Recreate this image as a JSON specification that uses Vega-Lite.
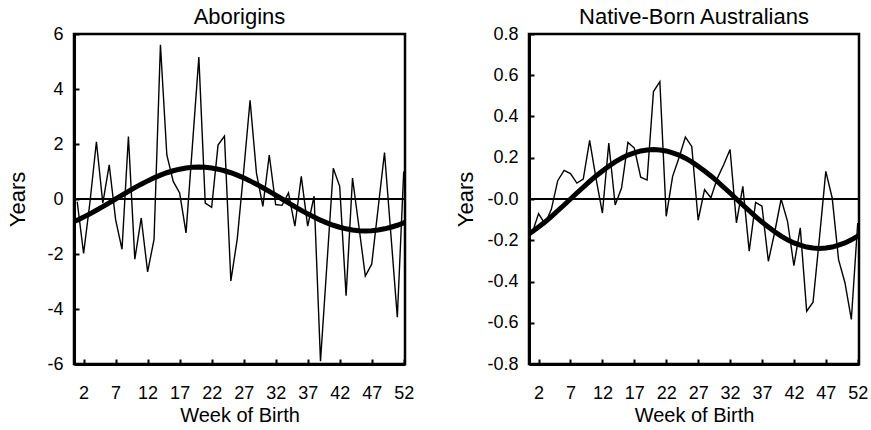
{
  "$schema": "https://vega.github.io/schema/vega-lite/v6.json",
  "background": "white",
  "padding": {"left": 5, "top": 4, "right": 2, "bottom": 2},
  "config": {
    "font": "Liberation Sans",
    "view": {"stroke": "black", "strokeWidth": 2.5},
    "axis": {
      "grid": false,
      "domainColor": "black",
      "domainWidth": 3,
      "tickColor": "black",
      "tickSize": -5,
      "tickWidth": 2,
      "labelFont": "Liberation Sans",
      "labelFontSize": 18,
      "labelColor": "black",
      "titleFont": "Liberation Sans",
      "titleFontWeight": "normal",
      "titleColor": "black"
    },
    "title": {"fontSize": 22, "fontWeight": "normal", "font": "Liberation Sans", "color": "black", "offset": -4},
    "concat": {"spacing": 38}
  },
  "datasets": {
    "abo": [
      {"week": 0.5, "value": null, "fit": -0.82},
      {"week": 1, "value": -0.1, "fit": -0.769},
      {"week": 2, "value": -1.98, "fit": -0.659},
      {"week": 3, "value": -0.1, "fit": -0.539},
      {"week": 4, "value": 2.08, "fit": -0.411},
      {"week": 5, "value": -0.15, "fit": -0.278},
      {"week": 6, "value": 1.24, "fit": -0.14},
      {"week": 7, "value": -0.75, "fit": 0},
      {"week": 8, "value": -1.83, "fit": 0.14},
      {"week": 9, "value": 2.27, "fit": 0.278},
      {"week": 10, "value": -2.19, "fit": 0.411},
      {"week": 11, "value": -0.69, "fit": 0.539},
      {"week": 12, "value": -2.65, "fit": 0.659},
      {"week": 13, "value": -1.47, "fit": 0.769},
      {"week": 14, "value": 5.61, "fit": 0.868},
      {"week": 15, "value": 1.6, "fit": 0.955},
      {"week": 16, "value": 0.64, "fit": 1.027},
      {"week": 17, "value": 0.22, "fit": 1.085},
      {"week": 18, "value": -1.23, "fit": 1.126},
      {"week": 19, "value": 1.96, "fit": 1.152},
      {"week": 20, "value": 5.16, "fit": 1.16},
      {"week": 21, "value": -0.15, "fit": 1.152},
      {"week": 22, "value": -0.3, "fit": 1.126},
      {"week": 23, "value": 1.96, "fit": 1.085},
      {"week": 24, "value": 2.29, "fit": 1.027},
      {"week": 25, "value": -2.98, "fit": 0.955},
      {"week": 26, "value": -1.45, "fit": 0.868},
      {"week": 27, "value": 1.0, "fit": 0.769},
      {"week": 28, "value": 3.59, "fit": 0.659},
      {"week": 29, "value": 0.94, "fit": 0.539},
      {"week": 30, "value": -0.27, "fit": 0.411},
      {"week": 31, "value": 1.6, "fit": 0.278},
      {"week": 32, "value": -0.2, "fit": 0.14},
      {"week": 33, "value": -0.23, "fit": 0},
      {"week": 34, "value": 0.22, "fit": -0.14},
      {"week": 35, "value": -0.99, "fit": -0.278},
      {"week": 36, "value": 0.82, "fit": -0.411},
      {"week": 37, "value": -0.99, "fit": -0.539},
      {"week": 38, "value": 0.1, "fit": -0.659},
      {"week": 39, "value": -5.9, "fit": -0.769},
      {"week": 40, "value": -2.4, "fit": -0.868},
      {"week": 41, "value": 1.12, "fit": -0.955},
      {"week": 42, "value": 0.46, "fit": -1.027},
      {"week": 43, "value": -3.52, "fit": -1.085},
      {"week": 44, "value": 0.76, "fit": -1.126},
      {"week": 45, "value": -1.0, "fit": -1.152},
      {"week": 46, "value": -2.8, "fit": -1.16},
      {"week": 47, "value": -2.37, "fit": -1.152},
      {"week": 48, "value": -0.34, "fit": -1.126},
      {"week": 49, "value": 1.69, "fit": -1.085},
      {"week": 50, "value": -1.3, "fit": -1.027},
      {"week": 51, "value": -4.3, "fit": -0.955},
      {"week": 52, "value": 1.0, "fit": -0.868},
      {"week": 52.2, "value": null, "fit": -0.846}
    ],
    "nba": [
      {"week": 0.5, "value": null, "fit": -0.17},
      {"week": 1, "value": -0.165, "fit": -0.159},
      {"week": 2, "value": -0.071, "fit": -0.136},
      {"week": 3, "value": -0.121, "fit": -0.112},
      {"week": 4, "value": -0.05, "fit": -0.085},
      {"week": 5, "value": 0.089, "fit": -0.057},
      {"week": 6, "value": 0.139, "fit": -0.029},
      {"week": 7, "value": 0.123, "fit": 0},
      {"week": 8, "value": 0.077, "fit": 0.029},
      {"week": 9, "value": 0.097, "fit": 0.057},
      {"week": 10, "value": 0.284, "fit": 0.085},
      {"week": 11, "value": 0.1, "fit": 0.112},
      {"week": 12, "value": -0.068, "fit": 0.136},
      {"week": 13, "value": 0.271, "fit": 0.159},
      {"week": 14, "value": -0.029, "fit": 0.18},
      {"week": 15, "value": 0.053, "fit": 0.198},
      {"week": 16, "value": 0.274, "fit": 0.213},
      {"week": 17, "value": 0.247, "fit": 0.224},
      {"week": 18, "value": 0.106, "fit": 0.233},
      {"week": 19, "value": 0.092, "fit": 0.238},
      {"week": 20, "value": 0.521, "fit": 0.24},
      {"week": 21, "value": 0.569, "fit": 0.238},
      {"week": 22, "value": -0.084, "fit": 0.233},
      {"week": 23, "value": 0.11, "fit": 0.224},
      {"week": 24, "value": 0.2, "fit": 0.213},
      {"week": 25, "value": 0.3, "fit": 0.198},
      {"week": 26, "value": 0.255, "fit": 0.18},
      {"week": 27, "value": -0.103, "fit": 0.159},
      {"week": 28, "value": 0.045, "fit": 0.136},
      {"week": 29, "value": 0.006, "fit": 0.112},
      {"week": 30, "value": 0.1, "fit": 0.085},
      {"week": 31, "value": 0.166, "fit": 0.057},
      {"week": 32, "value": 0.24, "fit": 0.029},
      {"week": 33, "value": -0.116, "fit": 0},
      {"week": 34, "value": 0.061, "fit": -0.029},
      {"week": 35, "value": -0.253, "fit": -0.057},
      {"week": 36, "value": -0.016, "fit": -0.085},
      {"week": 37, "value": -0.035, "fit": -0.112},
      {"week": 38, "value": -0.302, "fit": -0.136},
      {"week": 39, "value": -0.16, "fit": -0.159},
      {"week": 40, "value": 0.0, "fit": -0.18},
      {"week": 41, "value": -0.108, "fit": -0.198},
      {"week": 42, "value": -0.323, "fit": -0.213},
      {"week": 43, "value": -0.14, "fit": -0.224},
      {"week": 44, "value": -0.544, "fit": -0.233},
      {"week": 45, "value": -0.5, "fit": -0.238},
      {"week": 46, "value": -0.19, "fit": -0.24},
      {"week": 47, "value": 0.134, "fit": -0.238},
      {"week": 48, "value": 0.005, "fit": -0.233},
      {"week": 49, "value": -0.294, "fit": -0.224},
      {"week": 50, "value": -0.406, "fit": -0.213},
      {"week": 51, "value": -0.584, "fit": -0.198},
      {"week": 52, "value": -0.116, "fit": -0.18},
      {"week": 52.2, "value": null, "fit": -0.175}
    ]
  },
  "hconcat": [
    {
      "title": "Aborigins",
      "width": 331,
      "height": 330,
      "data": {"name": "abo"},
      "encoding": {
        "x": {
          "field": "week", "type": "quantitative",
          "scale": {"domain": [0.5, 52.2], "nice": false, "zero": false},
          "axis": {"values": [2, 7, 12, 17, 22, 27, 32, 37, 42, 47, 52], "title": "Week of Birth", "titleFontSize": 20, "labelPadding": 25, "titlePadding": 3}
        }
      },
      "layer": [
        {
          "mark": {"type": "rule", "color": "black", "strokeWidth": 1},
          "encoding": {"y": {"datum": 0, "type": "quantitative"}, "x": null}
        },
        {
          "mark": {"type": "line", "color": "black", "strokeWidth": 1.4, "clip": true},
          "encoding": {
            "y": {
              "field": "value", "type": "quantitative",
              "scale": {"domain": [-6, 6], "nice": false},
              "axis": {"values": [-6, -4, -2, 0, 2, 4, 6], "title": "Years", "titleFontSize": 22, "labelPadding": 16, "titlePadding": 17,
                "labelExpr": "datum.value < 0 ? '-' + format(-datum.value, 'd') : format(datum.value, 'd')"}
            }
          }
        },
        {
          "mark": {"type": "line", "color": "black", "strokeWidth": 5, "clip": true},
          "encoding": {"y": {"field": "fit", "type": "quantitative"}}
        }
      ]
    },
    {
      "title": "Native-Born Australians",
      "width": 330,
      "height": 330,
      "data": {"name": "nba"},
      "encoding": {
        "x": {
          "field": "week", "type": "quantitative",
          "scale": {"domain": [0.5, 52.2], "nice": false, "zero": false},
          "axis": {"values": [2, 7, 12, 17, 22, 27, 32, 37, 42, 47, 52], "title": "Week of Birth", "titleFontSize": 20, "labelPadding": 25, "titlePadding": 3}
        }
      },
      "layer": [
        {
          "mark": {"type": "rule", "color": "black", "strokeWidth": 1},
          "encoding": {"y": {"datum": 0, "type": "quantitative"}, "x": null}
        },
        {
          "mark": {"type": "line", "color": "black", "strokeWidth": 1.4, "clip": true},
          "encoding": {
            "y": {
              "field": "value", "type": "quantitative",
              "scale": {"domain": [-0.8, 0.8], "nice": false},
              "axis": {"values": [-0.8, -0.6, -0.4, -0.2, 0, 0.2, 0.4, 0.6, 0.8], "title": "Years", "titleFontSize": 22, "labelPadding": 16, "titlePadding": 9,
                "labelExpr": "datum.value < -0.01 ? '-' + format(-datum.value, '.1f') : (datum.value > 0.01 ? format(datum.value, '.1f') : '-0.0')"}
            }
          }
        },
        {
          "mark": {"type": "line", "color": "black", "strokeWidth": 5, "clip": true},
          "encoding": {"y": {"field": "fit", "type": "quantitative"}}
        }
      ]
    }
  ]
}
